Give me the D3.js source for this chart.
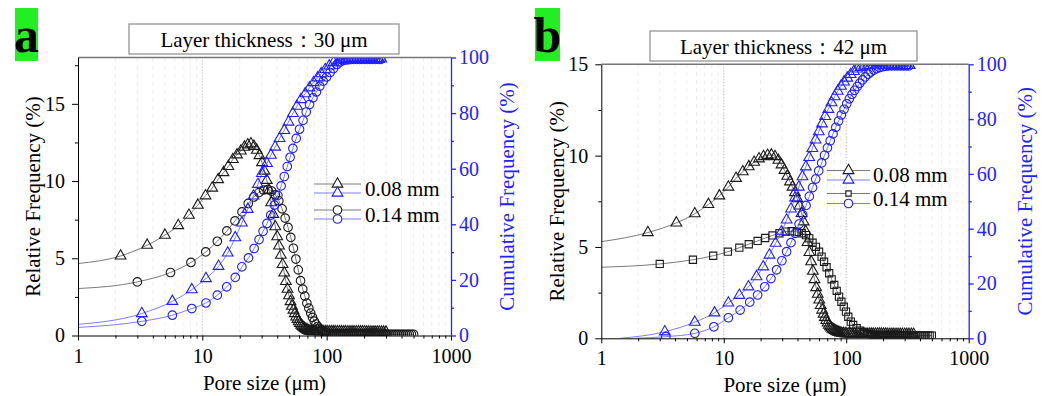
<!DOCTYPE html>
<html>
<head>
<meta charset="utf-8">
<script src="https://cdn.jsdelivr.net/npm/d3@7"></script>
<style>
  body { margin: 0; background: #fff; }
  svg text { font-family: "Liberation Serif", "Times New Roman", serif; }
</style>
</head>
<body>
<svg id="chart" width="1054" height="396"></svg>
<script>
// Pore size distributions, [pore size (um), frequency (%)].
// The first pair of every series only anchors the line; it gets no marker.

// layer thickness 30 um
var aRel08 = [[1,4.66],[2.2,5.15],[3.6,5.85],[5.0,6.5],[6.4,7.12],[7.8,7.79],[9.2,8.44],[10.6,9.05],[12.0,9.55],[13.4,10.1],[14.8,10.55],[16.2,10.95],[17.6,11.4],[19.0,11.7],[20.4,11.95],[21.8,12.2],[23.2,12.35],[24.6,12.42],[26.0,12.25],[27.4,12.0],[28.8,11.65],[30.2,11.2],[31.6,10.65],[33.0,10.05],[34.4,9.4],[35.8,8.6],[37.2,7.85],[38.6,7.05],[40.0,6.4],[41.4,5.8],[42.8,5.2],[44.2,4.6],[45.6,4.05],[47.0,3.5],[48.4,3.0],[49.8,2.58],[51.2,2.2],[52.6,1.9],[54.0,1.65],[55.4,1.42],[56.8,1.2],[58.2,1.05],[59.6,0.9],[61.0,0.78],[62.4,0.68],[63.8,0.6],[65.2,0.52],[66.6,0.46],[68.0,0.41],[69.4,0.37],[70.8,0.33],[72.2,0.3],[73.6,0.28],[75.0,0.27],[77,0.26],[79,0.26],[81,0.26],[83,0.25],[86,0.25],[89,0.25],[92,0.25],[95,0.25],[98,0.25],[101,0.25],[105,0.25],[109,0.25],[113,0.25],[117,0.25],[122,0.25],[127,0.25],[132,0.25],[137,0.24],[142,0.24],[148,0.24],[154,0.24],[160,0.24],[166,0.24],[173,0.24],[180,0.24],[187,0.24],[194,0.24],[202,0.24],[210,0.23],[218,0.23],[227,0.23],[236,0.23],[245,0.23],[255,0.23],[265,0.23],[276,0.22],[287,0.22],[300,0.22]];
var aRel14 = [[1,3.04],[3.0,3.47],[5.55,4.08],[8.1,4.73],[10.65,5.41],[13.2,6.1],[15.75,6.77],[18.3,7.42],[20.85,8.0],[23.4,8.55],[25.95,8.97],[28.5,9.25],[31.05,9.42],[33.6,9.45],[36.15,9.35],[38.7,9.1],[41.25,8.72],[43.8,8.2],[46.35,7.6],[48.9,7.0],[51.45,6.35],[54.0,5.65],[56.55,4.95],[59.1,4.25],[61.65,3.55],[64.2,3.0],[66.75,2.55],[69.3,2.1],[71.85,1.77],[74.4,1.45],[76.95,1.17],[79.5,0.93],[82.05,0.74],[84.6,0.58],[87.15,0.46],[89.7,0.35],[92.25,0.28],[94.8,0.22],[97.35,0.17],[99.9,0.14],[104,0.12],[108,0.11],[112,0.1],[116,0.1],[120,0.1],[125,0.1],[130,0.1],[135,0.1],[140,0.1],[145,0.1],[150,0.1],[156,0.1],[162,0.1],[168,0.1],[175,0.1],[182,0.1],[189,0.1],[196,0.1],[203,0.1],[211,0.1],[219,0.1],[227,0.09],[236,0.09],[245,0.09],[254,0.09],[264,0.09],[274,0.09],[284,0.09],[295,0.09],[306,0.08],[318,0.08],[330,0.08],[343,0.08],[356,0.08],[369,0.08],[383,0.08],[398,0.08],[413,0.08],[429,0.08],[445,0.08],[462,0.08],[480,0.08],[500,0.08]];
var aCum08 = [[1,4.0],[3.26,7.9],[5.74,12.3],[8.23,16.5],[10.7,20.5],[13.5,24.9],[16.0,29.7],[18.4,35.2],[20.8,40.5],[23.2,45.4],[25.8,50.2],[28.0,54.4],[30.1,58.3],[33.1,61.9],[35.6,64.9],[38.5,67.8],[41.8,70.9],[45.6,73.8],[49.3,76.8],[53.5,79.9],[57.7,82.5],[62.1,84.9],[67.3,87.0],[72.8,89.1],[78.5,91.0],[84.6,92.7],[90.5,94.2],[97.5,95.7],[105,97.0],[113.7,98.2],[125,99.0],[130,99.2],[135,99.3],[140,99.4],[145,99.4],[150,99.5],[156,99.5],[162,99.5],[168,99.5],[175,99.5],[182,99.5],[189,99.5],[196,99.5],[203,99.5],[211,99.5],[219,99.5],[227,99.5],[236,99.5],[245,99.5],[254,99.5],[264,99.5],[275,99.5]];
var aCum14 = [[1,2.9],[3.26,5.1],[5.74,7.3],[8.23,9.7],[10.7,11.7],[13.2,14.5],[15.7,17.5],[18.4,20.9],[20.8,24.7],[23.5,27.9],[26.1,31.3],[28.6,34.5],[30.8,37.5],[33.1,40.3],[35.5,43.3],[38.0,46.9],[40.5,50.4],[43.0,53.8],[45.6,57.2],[48.2,60.8],[50.8,64.1],[53.5,67.3],[56.9,70.9],[60.5,74.2],[64.6,77.4],[68.5,80.4],[72.8,83.1],[77.6,85.5],[82.7,87.6],[88.0,89.7],[93.8,91.5],[99.9,93.0],[106.5,94.6],[113.5,96.0],[121,97.5],[128,98.4],[135,98.9],[142,99.1],[150,99.2],[158,99.3],[166,99.3],[175,99.3],[184,99.3],[193,99.3],[203,99.3],[213,99.3],[224,99.3],[235,99.3],[247,99.3],[260,99.3],[273,99.3]];

// layer thickness 42 um
var bRel08 = [[1,5.29],[2.4,5.79],[4.1,6.32],[5.8,6.82],[7.5,7.33],[9.2,7.8],[10.9,8.28],[12.6,8.76],[14.3,9.12],[16.0,9.4],[17.7,9.64],[19.4,9.83],[21.1,9.95],[22.8,10.02],[24.5,10.04],[26.2,9.95],[27.9,9.75],[29.6,9.5],[31.3,9.2],[33.0,8.88],[34.7,8.57],[36.4,8.28],[38.1,7.98],[39.8,7.65],[41.5,7.25],[43.2,6.84],[44.9,6.38],[46.6,5.85],[48.3,5.25],[50.0,4.7],[51.7,4.2],[53.4,3.68],[55.1,3.22],[56.8,2.78],[58.5,2.42],[60.2,2.1],[61.9,1.8],[63.6,1.55],[65.3,1.33],[67.0,1.15],[68.7,0.98],[70.4,0.84],[72.1,0.72],[73.8,0.64],[75.5,0.57],[77.2,0.51],[78.9,0.47],[80.6,0.44],[82.3,0.4],[84.0,0.37],[85.7,0.34],[87.4,0.32],[89.1,0.3],[92,0.28],[95,0.27],[98,0.26],[101,0.25],[105,0.25],[109,0.25],[113,0.24],[117,0.24],[122,0.24],[127,0.24],[132,0.24],[137,0.24],[142,0.24],[148,0.23],[154,0.23],[160,0.23],[166,0.23],[173,0.23],[180,0.23],[187,0.23],[194,0.23],[202,0.23],[210,0.23],[218,0.22],[227,0.22],[236,0.22],[245,0.22],[255,0.22],[265,0.22],[276,0.22],[287,0.22],[300,0.22],[312,0.22],[325,0.22],[340,0.22],[355,0.22]];
var bRel14 = [[1,3.89],[3.0,4.07],[5.6,4.3],[8.2,4.52],[10.8,4.74],[13.4,4.96],[16.0,5.15],[18.9,5.33],[21.8,5.49],[25.0,5.63],[28.5,5.75],[32.0,5.84],[35.8,5.86],[39.6,5.82],[43.2,5.75],[46.9,5.65],[49.9,5.47],[53.1,5.23],[56.6,5.01],[60.0,4.74],[62.9,4.47],[65.9,4.19],[69.1,3.89],[72.6,3.56],[76.0,3.23],[79.9,2.92],[83.6,2.6],[87.4,2.28],[91.3,2.0],[95.5,1.73],[99.5,1.46],[104,1.18],[109,0.91],[114,0.73],[121.7,0.55],[129,0.42],[139,0.31],[150,0.24],[156,0.21],[162,0.19],[168,0.18],[175,0.17],[182,0.17],[189,0.16],[196,0.16],[203,0.16],[211,0.16],[219,0.16],[227,0.16],[236,0.16],[245,0.16],[254,0.16],[264,0.16],[274,0.16],[284,0.15],[295,0.15],[306,0.15],[318,0.15],[330,0.15],[343,0.15],[356,0.15],[369,0.15],[383,0.15],[398,0.15],[413,0.15],[429,0.15],[445,0.15],[462,0.15],[480,0.15],[500,0.15]];
var bCum08 = [[1.42,0],[3.3,2.4],[5.8,5.9],[8.4,9.3],[10.9,12.9],[13.4,15.7],[15.9,18.8],[18.5,22.5],[21.0,26.1],[23.6,30.4],[26.5,34.7],[29.6,38.9],[32.6,43.2],[35.4,47.2],[38.2,51.3],[41.0,55.2],[43.9,59.0],[46.8,62.6],[49.8,66.0],[52.9,69.3],[56.2,72.4],[59.7,75.4],[63.4,78.3],[67.3,81.0],[71.4,83.6],[75.8,86.0],[80.4,88.2],[85.3,90.2],[90.5,92.0],[96.0,93.6],[102,95.0],[108.5,96.3],[115.5,97.4],[123,98.3],[131,98.9],[140,99.3],[150,99.5],[158,99.6],[166,99.6],[175,99.6],[184,99.6],[193,99.6],[203,99.6],[213,99.6],[224,99.6],[235,99.6],[247,99.6],[260,99.6],[273,99.6],[287,99.6],[301,99.6],[316,99.6],[330,99.6]];
var bCum14 = [[1.9,0],[3.36,0.6],[5.8,1.8],[8.3,4.2],[10.9,7.5],[13.6,10.3],[16.3,13.2],[18.9,15.8],[21.6,18.8],[24.3,21.8],[27.0,25.0],[29.8,28.3],[32.6,31.6],[35.4,34.9],[38.3,38.3],[41.2,41.7],[44.1,45.1],[47.0,48.5],[50.0,51.8],[53.1,55.0],[56.3,58.1],[59.6,61.1],[63.0,64.0],[66.5,66.8],[70.2,69.5],[74.0,72.1],[78.0,74.6],[82.2,77.0],[86.6,79.3],[91.2,81.5],[96.0,83.6],[101,85.6],[106,87.4],[111.5,89.0],[117,90.5],[123,91.9],[129,93.1],[136,94.3],[143,95.4],[151,96.4],[159,97.2],[168,97.9],[177,98.4],[187,98.8],[198,99.1],[210,99.3],[222,99.4],[235,99.4],[249,99.4],[263,99.4],[278,99.4],[294,99.4],[310,99.4],[325,99.4]];

var poreTicks = [1, 10, 100, 1000];
var poreMinor = [2,3,4,5,6,7,8,9,20,30,40,50,60,70,80,90,200,300,400,500,600,700,800,900];
var cumTicks = [0, 20, 40, 60, 80, 100];
var cumMinor = [10, 30, 50, 70, 90];
var relTicksA = [0, 5, 10, 15];
var relMinorA = [2.5, 7.5, 12.5, 17.5];
var relTicksB = [0, 5, 10, 15];
var relMinorB = [2.5, 7.5, 12.5];
var legendLabels = ["0.08 mm", "0.14 mm"];

var BLACK = { mark: "#1a1a1a", line: "#7a7a7a" };
var BLUE = { mark: "#1f1fff", line: "#7d7dff" };
var AXIS_BLUE = "#2323ff";

var svg = d3.select("#chart");

var shapes = {
  triangle: { type: d3.symbolTriangle, size: 50 },
  circle: { type: d3.symbolCircle, size: 58 },
  square: { type: d3.symbolSquare, size: 52 }
};

var panels = [
  {
    id: "a", tag: "a", tagBox: [15, 8, 23, 53],
    left: 78, right: 451, top: 57.5, bottom: 335.5,
    relMax: 18, relTicks: relTicksA, relMinor: relMinorA,
    title: "Layer thickness：30 μm", titleBox: [129, 24, 270, 30],
    relTitleX: 33, cumTitleX: 507, poreTitleY: 383,
    series: [
      { data: aRel08, axis: "rel", shape: "triangle", color: BLACK },
      { data: aRel14, axis: "rel", shape: "circle", color: BLACK },
      { data: aCum08, axis: "cum", shape: "triangle", color: BLUE },
      { data: aCum14, axis: "cum", shape: "circle", color: BLUE }
    ],
    legend: { x0: 314, x1: 361, textX: 365, rows: [184, 193, 210, 219] }
  },
  {
    id: "b", tag: "b", tagBox: [535, 8, 25, 53],
    left: 601.3, right: 968.7, top: 64.3, bottom: 338.3,
    relMax: 15, relTicks: relTicksB, relMinor: relMinorB,
    title: "Layer thickness：42 μm", titleBox: [650, 31, 267, 30],
    relTitleX: 557, cumTitleX: 1025, poreTitleY: 385,
    series: [
      { data: bRel08, axis: "rel", shape: "triangle", color: BLACK },
      { data: bRel14, axis: "rel", shape: "square", color: BLACK },
      { data: bCum08, axis: "cum", shape: "triangle", color: BLUE },
      { data: bCum14, axis: "cum", shape: "circle", color: BLUE }
    ],
    legend: { x0: 827, x1: 870, textX: 873, rows: [170.5, 180, 193.5, 203.5] }
  }
];

function drawPanel(p) {
  var g = svg.append("g").attr("class", "panel-" + p.id);

  var x = d3.scaleLog().domain([1, 1000]).range([p.left, p.right]);
  var yRel = d3.scaleLinear().domain([0, p.relMax]).range([p.bottom, p.top]);
  var yCum = d3.scaleLinear().domain([0, 100]).range([p.bottom, p.top]);

  g.append("clipPath").attr("id", "clip-" + p.id)
    .append("rect")
    .attr("x", p.left).attr("y", p.top)
    .attr("width", p.right - p.left).attr("height", p.bottom - p.top);

  // vertical grid: faint dashes on the minor decades, dotted on 10 and 100
  g.append("g").selectAll("line")
    .data(poreMinor)
    .enter().append("line")
    .attr("x1", function(d) { return x(d); })
    .attr("x2", function(d) { return x(d); })
    .attr("y1", p.top).attr("y2", p.bottom)
    .attr("stroke", "#ececec").attr("stroke-width", 1)
    .attr("stroke-dasharray", "4,4");
  g.append("g").selectAll("line")
    .data([10, 100])
    .enter().append("line")
    .attr("x1", function(d) { return x(d); })
    .attr("x2", function(d) { return x(d); })
    .attr("y1", p.top).attr("y2", p.bottom)
    .attr("stroke", "#a8a8a8").attr("stroke-width", 1)
    .attr("stroke-dasharray", "1,2");

  var plot = g.append("g").attr("clip-path", "url(#clip-" + p.id + ")");

  p.series.forEach(function(s) {
    var y = s.axis === "rel" ? yRel : yCum;
    var line = d3.line()
      .x(function(d) { return x(d[0]); })
      .y(function(d) { return y(d[1]); })
      .curve(d3.curveMonotoneX);

    plot.append("path")
      .datum(s.data)
      .attr("fill", "none")
      .attr("stroke", s.color.line)
      .attr("stroke-width", 1)
      .attr("d", line);

    var sym = d3.symbol().type(shapes[s.shape].type).size(shapes[s.shape].size);
    plot.append("g").selectAll("path")
      .data(s.data.slice(1))
      .enter().append("path")
      .attr("d", sym)
      .attr("transform", function(d) {
        return "translate(" + x(d[0]) + "," + y(d[1]) + ")";
      })
      .attr("fill", "none")
      .attr("stroke", s.color.mark)
      .attr("stroke-width", 1.1);
  });

  // frame top
  g.append("line")
    .attr("x1", p.left).attr("x2", p.right)
    .attr("y1", p.top).attr("y2", p.top)
    .attr("stroke", "#777").attr("stroke-width", 1.5);

  // axes
  var fontSize = "20px";
  var bottom = g.append("g").attr("transform", "translate(0," + p.bottom + ")");
  bottom.call(d3.axisBottom(x).tickValues(poreTicks).tickFormat(d3.format("d"))
    .tickSize(5).tickSizeOuter(0).tickPadding(8));
  bottom.append("g").call(d3.axisBottom(x).tickValues(poreMinor).tickFormat("")
    .tickSize(3).tickSizeOuter(0))
    .select(".domain").remove();

  var left = g.append("g").attr("transform", "translate(" + p.left + ",0)");
  left.call(d3.axisLeft(yRel).tickValues(p.relTicks).tickSize(6).tickSizeOuter(0).tickPadding(7));
  left.append("g").call(d3.axisLeft(yRel).tickValues(p.relMinor).tickFormat("")
    .tickSize(3).tickSizeOuter(0))
    .select(".domain").remove();

  var right = g.append("g").attr("transform", "translate(" + p.right + ",0)");
  right.call(d3.axisRight(yCum).tickValues(cumTicks).tickSize(5).tickSizeOuter(0).tickPadding(3));
  right.append("g").call(d3.axisRight(yCum).tickValues(cumMinor).tickFormat("")
    .tickSize(3).tickSizeOuter(0))
    .select(".domain").remove();

  [bottom, left, right].forEach(function(ax) {
    ax.selectAll("text").attr("font-family", null).attr("font-size", fontSize);
    ax.attr("font-family", null);
  });
  bottom.selectAll("path, line").attr("stroke", "#000");
  left.selectAll("path, line").attr("stroke", "#000");
  right.selectAll("path, line").attr("stroke", AXIS_BLUE).attr("stroke-width", 1.3);
  right.selectAll("text").attr("fill", AXIS_BLUE);

  // axis titles
  g.append("text")
    .attr("transform", "translate(" + p.relTitleX + "," + ((p.top + p.bottom) / 2) + ") rotate(-90)")
    .attr("text-anchor", "middle").attr("dominant-baseline", "central")
    .attr("font-size", "21px").attr("fill", "#000")
    .text("Relative Frequency (%)");
  g.append("text")
    .attr("transform", "translate(" + p.cumTitleX + "," + ((p.top + p.bottom) / 2) + ") rotate(-90)")
    .attr("text-anchor", "middle").attr("dominant-baseline", "central")
    .attr("font-size", "21px").attr("fill", AXIS_BLUE)
    .text("Cumulative Frequency (%)");
  g.append("text")
    .attr("x", (p.left + p.right) / 2).attr("y", p.poreTitleY)
    .attr("text-anchor", "middle").attr("dominant-baseline", "central")
    .attr("font-size", "21px").attr("fill", "#000")
    .text("Pore size (μm)");

  // title box
  var tb = p.titleBox;
  g.append("rect")
    .attr("x", tb[0]).attr("y", tb[1]).attr("width", tb[2]).attr("height", tb[3])
    .attr("fill", "#fff").attr("stroke", "#8c8c8c").attr("stroke-width", 1.2);
  g.append("text")
    .attr("x", tb[0] + tb[2] / 2).attr("y", tb[1] + tb[3] / 2 + 1)
    .attr("text-anchor", "middle").attr("dominant-baseline", "central")
    .attr("font-size", "21px").attr("fill", "#000")
    .text(p.title);

  // panel tag
  var pb = p.tagBox;
  g.append("rect")
    .attr("x", pb[0]).attr("y", pb[1]).attr("width", pb[2]).attr("height", pb[3])
    .attr("fill", "#22ee22");
  g.append("text")
    .attr("x", pb[0] + pb[2] / 2).attr("y", pb[1] + pb[3] - 9)
    .attr("text-anchor", "middle")
    .attr("font-size", "50px").attr("font-weight", "bold").attr("fill", "#000")
    .text(p.tag);

  // legend: each size has a relative (black) and cumulative (blue) entry
  var lg = p.legend;
  var order = [p.series[0], p.series[2], p.series[1], p.series[3]];
  order.forEach(function(s, i) {
    var yy = lg.rows[i];
    g.append("line")
      .attr("x1", lg.x0).attr("x2", lg.x1)
      .attr("y1", yy).attr("y2", yy)
      .attr("stroke", s.color.line).attr("stroke-width", 1);
    var size = s.shape === "square" ? 28 : shapes[s.shape].size;
    g.append("path")
      .attr("d", d3.symbol().type(shapes[s.shape].type).size(size))
      .attr("transform", "translate(" + ((lg.x0 + lg.x1) / 2) + "," + yy + ")")
      .attr("fill", "#fff").attr("stroke", s.color.mark).attr("stroke-width", 1.1);
  });
  legendLabels.forEach(function(label, i) {
    g.append("text")
      .attr("x", lg.textX)
      .attr("y", (lg.rows[i * 2] + lg.rows[i * 2 + 1]) / 2)
      .attr("dominant-baseline", "central")
      .attr("font-size", "21px").attr("fill", "#000")
      .text(label);
  });
}

panels.forEach(drawPanel);
</script>
</body>
</html>
